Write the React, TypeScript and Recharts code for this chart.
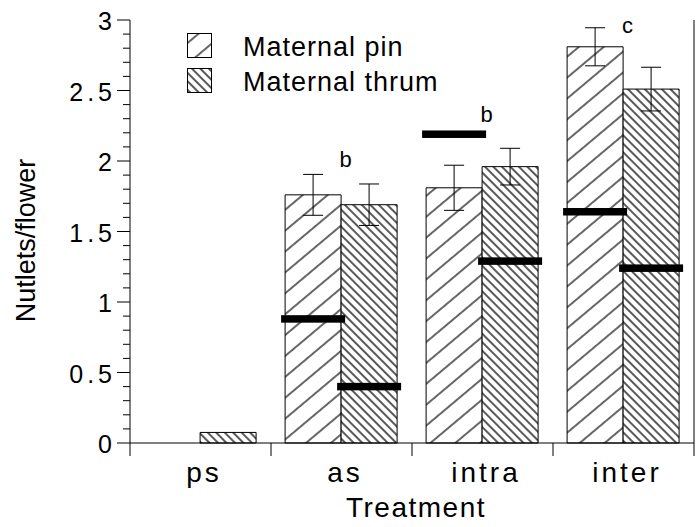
import React from 'react';
import { ComposedChart, Bar, XAxis, YAxis, ErrorBar, Scatter, Legend } from 'recharts';

const categories = ['ps', 'as', 'intra', 'inter'];
const pinMeans = [0, 1.76, 1.81, 2.81];
const thrumMeans = [0.075, 1.69, 1.96, 2.51];
const pinErrors = [null, 0.145, 0.16, 0.135];
const thrumErrors = [null, 0.147, 0.13, 0.155];
const pinExpected = [null, 0.88, 2.19, 1.64];
const thrumExpected = [null, 0.4, 1.29, 1.24];
const groupLetters = ['', 'b', 'b', 'c'];
const letterHeights = [null, 1.96, 2.28, 2.905];
const seriesNames = ['Maternal pin', 'Maternal thrum'];
const yTicks = [
  0, 0.1, 0.2, 0.3, 0.4, 0.5, 0.6, 0.7, 0.8, 0.9, 1, 1.1, 1.2, 1.3, 1.4, 1.5,
  1.6, 1.7, 1.8, 1.9, 2, 2.1, 2.2, 2.3, 2.4, 2.5, 2.6, 2.7, 2.8, 2.9, 3,
];

const data = categories.map((c, i) => ({
  cat: c,
  pin: pinMeans[i],
  thrum: thrumMeans[i],
  pinErr: pinErrors[i],
  thrumErr: thrumErrors[i],
  pinExp: pinExpected[i],
  thrumExp: thrumExpected[i],
  letter: groupLetters[i],
  letterY: letterHeights[i],
}));

const FONT = '"Liberation Sans", Arial, Helvetica, sans-serif';

const fmt = (v: number) => {
  const r = Math.round(v * 10) / 10;
  return String(r);
};

const LeftTick = (props: any) => {
  const { x, y, payload } = props;
  const v = payload.value;
  const major = Math.abs(v * 2 - Math.round(v * 2)) < 1e-6;
  return (
    <g>
      <line x1={x - (major ? 13 : 7)} x2={x} y1={y} y2={y} stroke="#000" strokeWidth={1} />
      {major && (
        <text x={x - 14} y={y} dy={10} textAnchor="end" fontSize={25} letterSpacing={4} fontFamily={FONT} fill="#000">
          {fmt(v)}
        </text>
      )}
    </g>
  );
};

const RightTick = (props: any) => {
  const { x, y } = props;
  return <line x1={x} x2={x + 6} y1={y} y2={y} stroke="#000" strokeWidth={1} />;
};

const BottomTick = (props: any) => {
  const { x, y, payload, index, width, visibleTicksCount } = props;
  const band = width && visibleTicksCount ? width / visibleTicksCount : (payload.offset || 0) * 2;
  const last = index === visibleTicksCount - 1;
  return (
    <g>
      <line x1={x - band / 2} x2={x - band / 2} y1={y} y2={y + 13} stroke="#000" strokeWidth={1} />
      {last && <line x1={x + band / 2} x2={x + band / 2} y1={y} y2={y + 13} stroke="#000" strokeWidth={1} />}
      <text x={x + 2 + 1.5} y={y + 39} textAnchor="middle" fontSize={28} letterSpacing={3} fontFamily={FONT} fill="#000">
        {payload.value}
      </text>
    </g>
  );
};

const MarkerShape = (key: string) => (props: any) => {
  const { x, y, width, payload } = props;
  if (payload == null || payload[key] == null) return <g />;
  return <rect x={x - 4} y={y - 3.75} width={width + 8} height={7.5} fill="#000" />;
};

const LetterShape = (props: any) => {
  const { cx, cy, payload } = props;
  if (!payload || !payload.letter || !isFinite(cy)) return <g />;
  return (
    <text x={cx + 4} y={cy} textAnchor="middle" fontSize={22} fontFamily={FONT} fill="#000">
      {payload.letter}
    </text>
  );
};

const YLabel = (props: any) => {
  const { viewBox } = props;
  const cx = viewBox.x + 35;
  const cy = viewBox.y + viewBox.height / 2 + 9;
  return (
    <text x={cx} y={cy} transform={`rotate(-90, ${cx}, ${cy})`} textAnchor="middle" fontSize={27} fontFamily={FONT} fill="#000">
      Nutlets/flower
    </text>
  );
};

const XLabel = (props: any) => {
  const { viewBox } = props;
  const cx = viewBox.x + viewBox.width / 2 + 4;
  const cy = viewBox.y + 74;
  return (
    <text x={cx} y={cy} textAnchor="middle" fontSize={28} letterSpacing={1.5} fontFamily={FONT} fill="#000">
      Treatment
    </text>
  );
};

const LegendBox = () => (
  <svg width={300} height={76} style={{ display: 'block', overflow: 'visible' }}>
    {seriesNames.map((n, i) => (
      <g key={n} transform={`translate(0, ${i * 35})`}>
        <rect x={0.5} y={0.5} width={24} height={24} fill={i === 0 ? 'url(#pinHatch)' : 'url(#thrumHatch)'} stroke="#000" strokeWidth={1} />
        <text x={56} y={23} fontSize={27} letterSpacing={1} fontFamily={FONT} fill="#000">
          {n}
        </text>
      </g>
    ))}
  </svg>
);

export default function App() {
  return (
    <div style={{ position: 'absolute', left: 0, top: 0, width: 700, height: 527, background: '#fff' }}>
      <svg width={0} height={0} style={{ position: 'absolute' }}>
        <defs>
          <pattern id="pinHatch" patternUnits="userSpaceOnUse" width={16} height={16} patternTransform="rotate(50)">
            <rect width={16} height={16} fill="#fff" />
            <line x1={8} y1={0} x2={8} y2={16} stroke="#000" strokeWidth={1.2} />
          </pattern>
          <pattern id="thrumHatch" patternUnits="userSpaceOnUse" width={6} height={6} patternTransform="rotate(-45)">
            <rect width={6} height={6} fill="#fff" />
            <line x1={3} y1={0} x2={3} y2={6} stroke="#000" strokeWidth={1.3} />
          </pattern>
        </defs>
      </svg>
      <ComposedChart
        width={700}
        height={527}
        data={data}
        margin={{ top: 20, right: 0, bottom: 0, left: 0 }}
        barCategoryGap="10%"
        barGap={0}
      >
        <XAxis
          xAxisId="bottom"
          dataKey="cat"
          height={84}
          axisLine={{ stroke: '#000', strokeWidth: 1 }}
          tickLine={false}
          tickSize={0}
          tickMargin={0}
          tick={<BottomTick />}
          interval={0}
          label={<XLabel />}
        />
        <XAxis
          xAxisId="top"
          dataKey="cat"
          orientation="top"
          height={0}
          axisLine={{ stroke: '#000', strokeWidth: 1 }}
          tickLine={false}
          tick={false}
        />
        <YAxis
          yAxisId="left"
          width={130}
          type="number"
          domain={[0, 3]}
          ticks={yTicks}
          interval={0}
          axisLine={{ stroke: '#000', strokeWidth: 1 }}
          tickLine={false}
          tickSize={0}
          tickMargin={0}
          tick={<LeftTick />}
          label={<YLabel />}
        />
        <YAxis
          yAxisId="right"
          orientation="right"
          width={6}
          type="number"
          domain={[0, 3]}
          ticks={yTicks}
          interval={0}
          axisLine={{ stroke: '#000', strokeWidth: 1 }}
          tickLine={false}
          tickSize={0}
          tickMargin={0}
          tick={<RightTick />}
        />
        <Legend
          layout="horizontal"
          verticalAlign="middle"
          align="center"
          content={() => <LegendBox />}
          wrapperStyle={{ position: 'absolute', left: 187, top: 33, width: 300, height: 76 }}
        />
        <Bar xAxisId="bottom" yAxisId="left" dataKey="pin" name={seriesNames[0]} fill="url(#pinHatch)" stroke="#000" strokeWidth={1} isAnimationActive={false}>
          <ErrorBar dataKey="pinErr" width={10} stroke="#000" strokeWidth={1} direction="y" />
        </Bar>
        <Bar xAxisId="bottom" yAxisId="left" dataKey="thrum" name={seriesNames[1]} fill="url(#thrumHatch)" stroke="#000" strokeWidth={1} isAnimationActive={false}>
          <ErrorBar dataKey="thrumErr" width={10} stroke="#000" strokeWidth={1} direction="y" />
        </Bar>
        <Bar xAxisId="top" yAxisId="left" dataKey="pinExp" fill="none" isAnimationActive={false} shape={MarkerShape('pinExp')} legendType="none" />
        <Bar xAxisId="top" yAxisId="left" dataKey="thrumExp" fill="none" isAnimationActive={false} shape={MarkerShape('thrumExp')} legendType="none" />
        <Scatter xAxisId="bottom" yAxisId="left" dataKey="letterY" shape={LetterShape} isAnimationActive={false} legendType="none" />
      </ComposedChart>
    </div>
  );
}
